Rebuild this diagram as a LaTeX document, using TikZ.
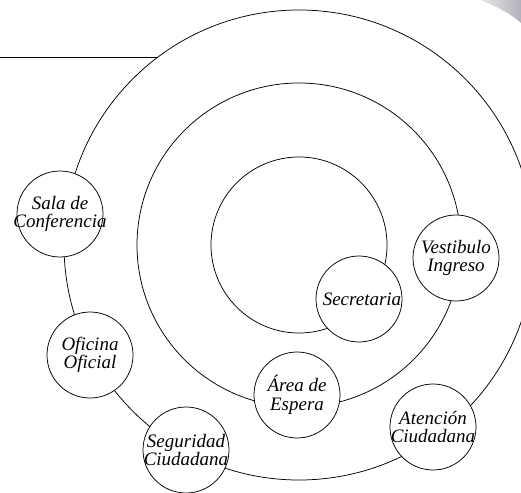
\documentclass[tikz,border=0pt]{standalone}
\usepackage{fontspec}
\setmainfont{Liberation Serif}
\definecolor{shadeA}{RGB}{232,232,236}
\definecolor{shadeB}{RGB}{178,178,186}

\begin{document}
\begin{tikzpicture}[x=1pt, y=-1pt,
    ring/.style={line width=0.75pt},
    room text/.style={align=center, inner sep=0pt,
      font=\fontsize{19}{17.5}\selectfont\itshape},
    room/.style={circle, draw, fill=white, line width=0.75pt,
      minimum size=86pt, inner sep=0pt, label={[room text]center:#1}}]
  \useasboundingbox (0,0) rectangle (521,492);
  \clip (0,0) rectangle (521,492);

  % corner shading
  \shade[left color=shadeA, right color=shadeB]
    (480,0) .. controls (498,7) and (511,14) .. (521,23) -- (521,0) -- cycle;

  % rings
  \coordinate (hub) at (299,245);
  \draw[ring] (hub) circle[radius=235pt];
  \draw[ring] (hub) circle[radius=162pt];
  \draw[ring] (hub) circle[radius=88pt];

  % lead line
  \coordinate (tab) at (0,57);
  \coordinate (tabend) at (158,57);
  \draw[ring] (tab) -- (tabend);

  % outer ring rooms
  \node[room={Sala de\\Conferencia}] (sala) at (60,214) {};
  \node[room={Oficina\\Oficial}] (oficina) at (90,355) {};
  \node[room={Seguridad\\Ciudadana}] (seguridad) at (186,450) {};
  \node[room={Atención\\Ciudadana}] (atencion) at (433,427) {};

  % middle ring rooms
  \node[room={Vestibulo\\Ingreso}] (vestibulo) at (456,258) {};
  \node[room={Área de\\[2pt]Espera}] (area) at (297,395) {};

  % inner ring
  \node[room={\hspace*{6pt}Secretaria}] (secretaria) at (359,299) {};
\end{tikzpicture}
\end{document}
